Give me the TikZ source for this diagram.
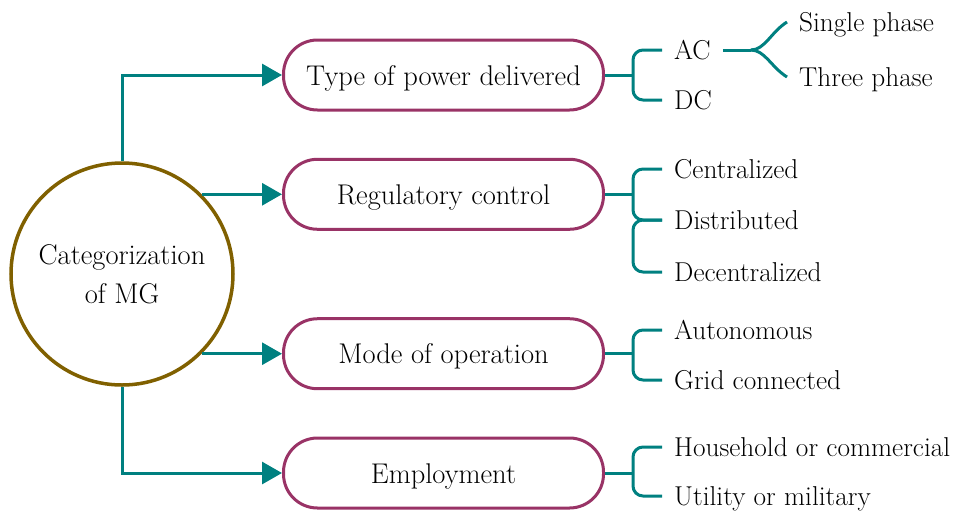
\documentclass[tikz,border=0pt]{standalone}
\usetikzlibrary{arrows.meta,calc}

\definecolor{tealline}{RGB}{0,128,128}
\definecolor{boxedge}{RGB}{153,51,102}
\definecolor{rootedge}{RGB}{128,96,0}

\begin{document}
\begin{tikzpicture}[x=1pt,y=-1pt,
  every node/.style={font=\fontsize{28.5}{39}\selectfont},
  root/.style={circle,draw=rootedge,line width=3.5pt,minimum size=222pt,
    align=center,inner sep=0pt},
  catbox/.style={draw=boxedge,line width=3pt,rounded corners=34pt,
    minimum width=320pt,minimum height=70pt,
    text height=22pt,text depth=2pt},
  leaf/.style={anchor=west,inner xsep=12pt,inner ysep=0pt,
    font=\fontsize{27.3}{36}\selectfont,text height=21pt,text depth=2pt},
  feed/.style={tealline,line width=3pt,-{Triangle[length=20pt,width=22pt]}},
  brk/.style={tealline,line width=3pt,rounded corners=10pt},]

\useasboundingbox (0,0) rectangle (968,512);

% Root
\node[root] (MG) at (122,274) {Categorization\\of MG};

% Category boxes
\node[catbox] (power) at (443.5,75) {Type of power delivered};
\node[catbox] (control) at (MG.45 -| power) {Regulatory control};
\node[catbox] (mode) at (MG.-45 -| power) {Mode of operation};
\node[catbox] (employ) at (443.5,473) {Employment};

% Arrows root -> boxes
\draw[feed] (MG.north) |- (power.west);
\draw[feed] (MG.45) -- (control.west);
\draw[feed] (MG.-45) -- (mode.west);
\draw[feed] (MG.south) |- (employ.west);

% Junctions
\coordinate (powerjn) at ($(power.east)+(28,0)$);
\coordinate (ctrljn) at ($(control.east)+(28,0)$);
\coordinate (modejn) at ($(mode.east)+(28,0)$);
\coordinate (employjn) at ($(employ.east)+(28,0)$);

% Leaves
\node[leaf] (ac) at (662,50) {AC};
\node[leaf] (dc) at (662,100) {DC};
\node[leaf] (single) at (787,22) {Single phase};
\node[leaf] (three) at (787,77) {Three phase};
\node[leaf] (cen) at (662,169) {Centralized};
\node[leaf] (dis) at (662,220) {Distributed};
\node[leaf] (dec) at (662,272) {Decentralized};
\node[leaf] (auto) at (662,330) {Autonomous};
\node[leaf] (grid) at (662,380) {Grid connected};
\node[leaf] (house) at (662,447) {Household or commercial};
\node[leaf] (util) at (662,496) {Utility or military};

% Brackets
\draw[brk] (power.east) -- (powerjn);
\draw[brk] (ac.west) -| (powerjn) |- (dc.west);

\draw[brk] (control.east) -- (ctrljn);
\draw[brk] (cen.west) -| (ctrljn) |- (dis.west);
\draw[brk] (dec.west) -| (ctrljn |- dis.west) -- (dis.west);

\draw[brk] (mode.east) -- (modejn);
\draw[brk] (auto.west) -| (modejn) |- (grid.west);

\draw[brk] (employ.east) -- (employjn);
\draw[brk] (house.west) -| (employjn) |- (util.west);

% AC fork
\coordinate (acfork) at ($(ac.east)+(28,0)$);
\draw[brk] (ac.east) -- (acfork);
\draw[brk] (acfork) .. controls +(14,0) and +(-16,10) .. (single.west);
\draw[brk] (acfork) .. controls +(14,0) and +(-16,-10) .. (three.west);

\end{tikzpicture}
\end{document}
